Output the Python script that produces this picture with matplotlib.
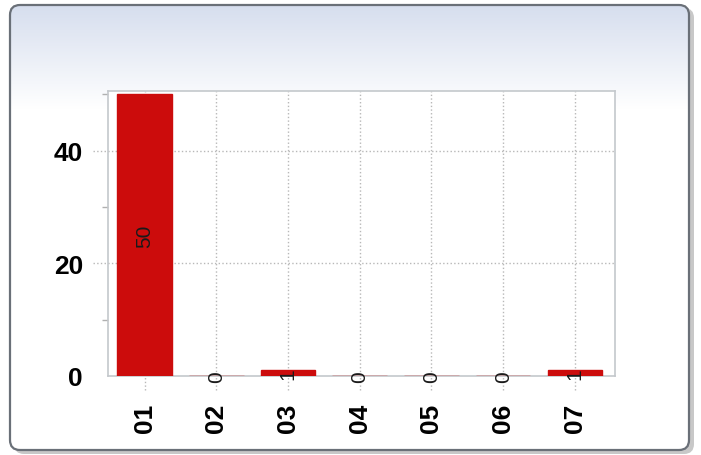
import numpy as np
import matplotlib.pyplot as plt
from matplotlib.patches import FancyBboxPatch
import matplotlib.transforms as mtransforms

categories = ['01', '02', '03', '04', '05', '06', '07']
counts = [50, 0, 1, 0, 0, 0, 1]
yticks = [0, 20, 40]

plt.rcParams['font.family'] = ['Liberation Sans', 'DejaVu Sans']

fig = plt.figure(figsize=(7.01, 4.56), dpi=100)

# card background with gradient and rounded border
bg = fig.add_axes([0, 0, 1, 1])
bg.set_xlim(0, 701)
bg.set_ylim(456, 0)
bg.axis('off')
shadow = FancyBboxPatch((14, 9), 680, 446, boxstyle="round,pad=0,rounding_size=10",
                        facecolor='#c8c8c8', edgecolor='none', zorder=0)
bg.add_patch(shadow)
card = FancyBboxPatch((10, 6), 679, 445, boxstyle="round,pad=0,rounding_size=10",
                      facecolor='white', edgecolor='none', zorder=1)
bg.add_patch(card)
grad = np.linspace(0, 1, 256).reshape(-1, 1)
cmap = plt.matplotlib.colors.LinearSegmentedColormap.from_list('g', ['#d6deee', '#ffffff'])
im = bg.imshow(grad, extent=(10, 689, 110, 6), cmap=cmap, aspect='auto', zorder=1.5)
im.set_clip_path(card)
border = FancyBboxPatch((10, 6), 679, 445, boxstyle="round,pad=0,rounding_size=10",
                        facecolor='none', edgecolor='#6a7078', linewidth=1.6, zorder=2)
bg.add_patch(border)

ax = fig.add_axes([108/701, 1 - 377/456, 507/701, 285/456])
x = np.arange(len(categories))
ax.bar(x, counts, width=0.76, color='#cc0c0c', edgecolor='#cc0c0c', linewidth=1, zorder=3)
ax.set_xlim(-0.51, 6.56)
ax.set_ylim(0, 50.6)

for xi, v in zip(x, counts):
    ax.text(xi, v / 2, str(v), rotation=90, ha='center', va='center',
            fontsize=15, color='#1a1a1a', zorder=4, clip_on=False)

ax.set_xticks(x)
ax.set_xticklabels(categories, rotation=90, fontsize=19, fontweight='bold')
ax.set_yticks(yticks)
ax.set_yticklabels([str(t) for t in yticks], fontsize=19, fontweight='bold')
ax.set_yticks([10, 30, 50], minor=True)
ax.tick_params(axis='y', which='major', length=0, pad=18)
ax.tick_params(axis='x', which='major', length=0, pad=19)
ax.tick_params(axis='y', which='minor', length=4, color='#b0b0b0', width=1, pad=0)

# dotted grid lines extending beyond the plot
yt = mtransforms.blended_transform_factory(ax.transAxes, ax.transData)
for t in [20, 40]:
    ax.plot([-0.03, 1], [t, t], transform=yt, color='#b8b8b8', linestyle=':',
            linewidth=1, clip_on=False, zorder=1)
xt = mtransforms.blended_transform_factory(ax.transData, ax.transAxes)
for xi in x:
    ax.plot([xi, xi], [-0.05, 1], transform=xt, color='#b8b8b8', linestyle=':',
            linewidth=1, clip_on=False, zorder=1)

for s in ax.spines.values():
    s.set_color('#c4c8cc')
    s.set_linewidth(1.2)

fig.savefig('out.png', dpi=100)
